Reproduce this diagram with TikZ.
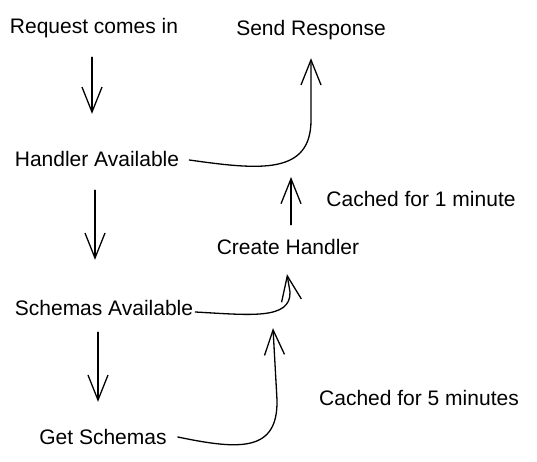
\documentclass[tikz,border=0pt]{standalone}
\usepackage{fontspec}
\setmainfont{Liberation Sans}
\usetikzlibrary{arrows.meta}
\begin{document}
\begin{tikzpicture}[x=1pt,y=-1pt,
  lbl/.style={inner sep=0pt, text height=16pt, text depth=2pt, font=\fontsize{21}{24}\selectfont},
  arr/.style={line width=1.3pt, line cap=round, line join=round,
    -{Straight Barb[length=25pt,width=20pt,line width=1.3pt]}}]
\useasboundingbox (0,0) rectangle (537,462);
\node[lbl] (req) at (94,27) {Request comes in};
\node[lbl] (sr)  at (311,29) {Send Response};
\node[lbl] (ha)  at (97,160) {Handler Available};
\node[lbl] (c1l) at (421,199) {Cached for 1 minute};
\node[lbl] (ch)  at (288,247) {Create Handler};
\node[lbl] (sa)  at (104,308) {Schemas Available};
\node[lbl] (c5l) at (419,398) {Cached for 5 minutes};
\node[lbl] (gs)  at (103,437) {Get Schemas};
\coordinate (cache1) at (291,177);

\draw[arr] ([xshift=-2pt,yshift=-21pt]req.south) -- ([xshift=-5pt,yshift=37pt]ha.north);
\draw[arr] ([xshift=-2pt,yshift=-21pt]ha.south) -- ([xshift=-9pt,yshift=39pt]sa.north);
\draw[arr] ([xshift=-6pt,yshift=-15pt]sa.south) -- ([xshift=-5pt,yshift=26pt]gs.north);
\draw[arr] ([xshift=3pt,yshift=13pt]ch.north) -- (cache1);

\draw[arr] ([xshift=10pt]ha.east) .. controls (260,170) and (311,175) .. (311,120) -- ([yshift=-20pt]sr.south);
\draw[arr] ([xshift=2pt,yshift=-4pt]sa.east) .. controls (250,315) and (291,320) .. (290,292) -- ([xshift=-1pt,yshift=-18pt]ch.south);
\draw[arr] ([xshift=11pt]gs.east) .. controls (240,450) and (278,452) .. (277,400) -- ([xshift=-15pt,yshift=-72pt]ch.south);
\end{tikzpicture}
\end{document}
